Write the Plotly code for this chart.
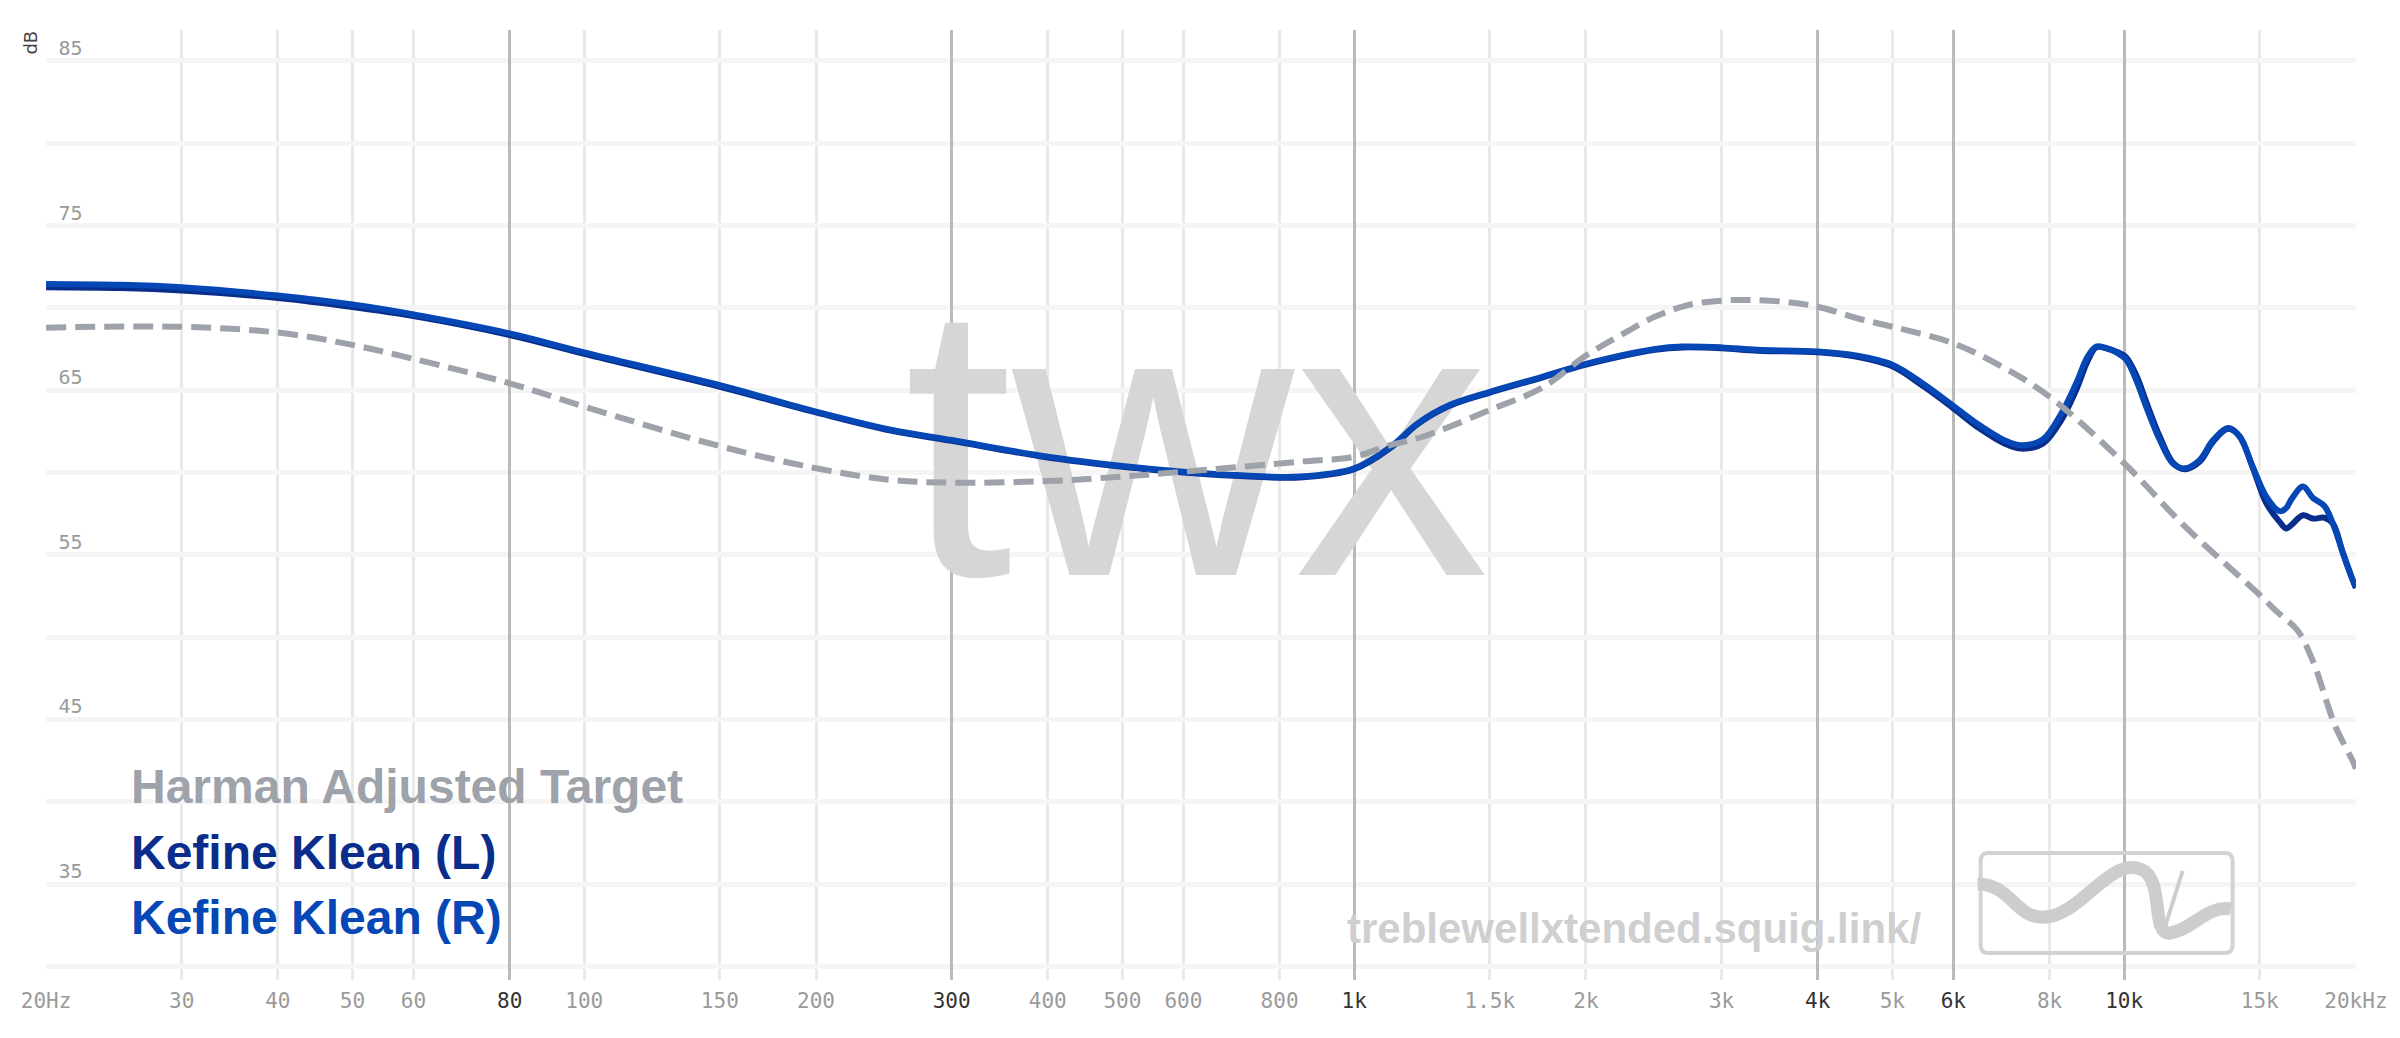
import plotly.graph_objects as go
import numpy as np

# ---------------- data ----------------
freq_meas = [20, 25, 30, 40, 50, 60, 80, 100, 150, 200, 250, 300, 400, 500, 600, 700, 850,
             1000, 1115, 1210, 1330, 1500, 1750, 2000, 2460, 2670, 3000, 3340, 4000, 4500, 5000,
             5500, 6000, 6500, 7000, 7350, 7840, 8290, 8660, 8970, 9200, 9480, 9810, 10060, 10370,
             10680, 11120, 11570, 11980, 12530, 13040, 13640, 14120, 14690, 15290, 15920, 16240,
             16480, 17070, 17590, 18210, 18670, 19240, 19720, 20000]
klean_r = [71.45, 71.4, 71.25, 70.75, 70.2, 69.6, 68.45, 67.3, 65.3, 63.7, 62.6, 61.97, 60.96,
           60.4, 60.05, 59.85, 59.75, 60.25, 61.55, 63.0, 64.1, 64.9, 65.8, 66.6, 67.5, 67.65,
           67.6, 67.45, 67.35, 67.1, 66.55, 65.35, 64.05, 62.85, 61.95, 61.65, 62.0, 63.6, 65.4,
           67.05, 67.65, 67.55, 67.25, 66.85, 65.6, 64.0, 62.0, 60.55, 60.25, 60.75, 61.95,
           62.7, 62.2, 60.35, 58.55, 57.65, 57.85, 58.35, 59.15, 58.45, 57.95, 56.9, 55.1,
           53.7, 53.0]
klean_l = [71.25, 71.2, 71.05, 70.6, 70.05, 69.5, 68.35, 67.2, 65.2, 63.65, 62.55, 61.92, 60.91,
           60.35, 60.0, 59.8, 59.7, 60.2, 61.5, 62.95, 64.05, 64.85, 65.75, 66.55, 67.45, 67.6,
           67.55, 67.4, 67.3, 67.03, 66.45, 65.2, 63.9, 62.65, 61.75, 61.45, 61.75, 63.2, 65.0,
           66.8, 67.6, 67.55, 67.3, 67.0, 65.9, 64.3, 62.2, 60.6, 60.2, 60.65, 61.85,
           62.65, 62.2, 60.3, 58.15, 57.0, 56.6, 56.8, 57.4, 57.2, 57.25, 56.9, 55.1,
           53.7, 53.0]

freq_target = [20, 30, 40, 50, 60, 80, 100, 150, 200, 250, 300, 400, 500, 600, 850, 1000, 1115,
               1210, 1330, 1500, 1750, 2000, 2220, 2460, 2720, 3000, 3210, 3600, 4000, 4500, 5000,
               6000, 7000, 8000, 10000, 12000, 15000, 15830, 16800, 17600, 18800, 19800, 20000]
harman_target = [68.8, 68.85, 68.5, 67.75, 66.9, 65.42, 64.0, 61.6, 60.26, 59.55, 59.38, 59.48,
                 59.75, 60.05, 60.66, 60.96, 61.67, 62.08, 62.78, 63.8, 65.12, 67.1, 68.35, 69.47,
                 70.18, 70.44, 70.48, 70.38, 70.07, 69.37, 68.85, 67.85, 66.33, 64.61, 60.56,
                 56.71, 52.56, 51.5, 50.4, 48.5, 44.6, 42.5, 42.0]

grid_light = [30, 40, 50, 60, 100, 150, 200, 400, 500, 600, 800, 1500, 2000, 3000, 5000, 8000, 15000]
label_light_vals = [20, 30, 40, 50, 60, 100, 150, 200, 400, 500, 600, 800, 1500, 2000, 3000, 5000, 8000, 15000, 20000]
label_light_text = ["20Hz", "30", "40", "50", "60", "100", "150", "200", "400", "500", "600", "800",
                    "1.5k", "2k", "3k", "5k", "8k", "15k", "20kHz"]
dark_vals = [80, 300, 1000, 4000, 6000, 10000]
dark_text = ["80", "300", "1k", "4k", "6k", "10k"]
y_grid_vals = [30, 35, 40, 45, 50, 55, 60, 65, 70, 75, 80, 85]
y_label_vals = [35, 45, 55, 65, 75, 85]

names = ["Harman Adjusted Target", "Kefine Klean (L)", "Kefine Klean (R)"]
watermark = "twx"
site = "treblewellxtended.squig.link/"

# ---------------- layout constants ----------------
W, H = 2400, 1038
PL, PR, PT, PB = 46.4, 2356.4, 30, 980
C_TARGET = "#9ea2aa"
C_L = "#0a2d8c"
C_R = "#0447b5"
SMOOTH = 1.0

def px(x):
    return (x - PL) / (PR - PL)

def py(y):
    return (PB - y) / (PB - PT)

fig = go.Figure()

# watermark (below curves)
fig.add_trace(go.Scatter(x=[624], y=[59.7], mode="text", text=[watermark],
                         textfont=dict(family="Liberation Sans, sans-serif",
                                       size=390, color="#d6d6d6"),
                         hoverinfo="skip", showlegend=False))

fig.add_trace(go.Scatter(x=freq_meas, y=klean_l, mode="lines", name=names[1],
                         line=dict(color=C_L, width=6, shape="spline", smoothing=SMOOTH),
                         showlegend=False))
fig.add_trace(go.Scatter(x=freq_meas, y=klean_r, mode="lines", name=names[2],
                         line=dict(color=C_R, width=6, shape="spline", smoothing=SMOOTH),
                         showlegend=False))
fig.add_trace(go.Scatter(x=freq_target, y=harman_target, mode="lines", name=names[0],
                         xaxis="x2", yaxis="y2",
                         line=dict(color=C_TARGET, width=6, dash="20px,9px", shape="spline",
                                   smoothing=SMOOTH),
                         showlegend=False))

xr = [np.log10(20) - 1e-4, np.log10(20000) + 1e-4]
yr = [29.17, 86.88]
tickfont_light = dict(family="DejaVu Sans Mono, monospace", size=21, color="#9a9a9a")
tickfont_dark = dict(family="DejaVu Sans Mono, monospace", size=21, color="#333333")

fig.update_layout(
    width=W, height=H,
    margin=dict(l=PL, r=W - PR, t=PT, b=H - PB, pad=0),
    paper_bgcolor="white", plot_bgcolor="white",
    xaxis=dict(type="log", range=xr, tickmode="array", tickvals=label_light_vals,
               ticktext=label_light_text, showgrid=False, zeroline=False, showline=False,
               ticks="", tickfont=tickfont_light, ticklabelstandoff=6,
               minor=dict(tickvals=grid_light, showgrid=True, gridcolor="#e9e9e9", gridwidth=2.5, ticks="")),
    xaxis2=dict(type="log", range=xr, overlaying="x", anchor="y", side="bottom",
                tickmode="array", tickvals=dark_vals, ticktext=dark_text, showgrid=True,
                gridcolor="#bababa", gridwidth=2.5, zeroline=False, showline=False, ticks="",
                tickfont=tickfont_dark, ticklabelstandoff=6),
    yaxis=dict(range=yr, tickmode="array", tickvals=y_grid_vals, showticklabels=False,
               showgrid=True, gridcolor="#f5f5f5", gridwidth=4.5, zeroline=False, showline=False,
               ticks=""),
    yaxis2=dict(range=yr, overlaying="y", anchor="free", position=px(83), side="left",
                tickmode="array", tickvals=y_label_vals, ticktext=[str(v) for v in y_label_vals],
                showgrid=False, zeroline=False, showline=False, ticks="",
                ticklabelshift=-13, ticklabelstandoff=0,
                tickfont=dict(family="DejaVu Sans Mono, monospace", size=20, color="#9a9a9a")),
    showlegend=False,
)

annotations = []
# y-axis title
annotations.append(dict(text="dB", x=px(31), y=py(43), xref="paper", yref="paper", showarrow=False,
                        textangle=-90, font=dict(family="DejaVu Sans, sans-serif", size=18, color="#444444"),
                        xanchor="center", yanchor="middle"))
# legend texts
for name, col, base in zip(names, [C_TARGET, C_L, C_R], [802, 868, 933]):
    annotations.append(dict(text=name, x=px(129), y=py(base - 16), xref="paper", yref="paper",
                            showarrow=False, xanchor="left", yanchor="middle",
                            font=dict(family="Liberation Sans, Arial, sans-serif", size=48, color=col,
                                      weight="bold")))
# site watermark text
annotations.append(dict(text=site, x=px(1634), y=py(928), xref="paper", yref="paper", showarrow=False,
                        xanchor="center", yanchor="middle",
                        font=dict(family="Liberation Sans, Arial, sans-serif", size=42, color="#cfcfcf",
                                  weight="bold")))
fig.update_layout(annotations=annotations)

# logo box and squiggle
def path_paper(cmds):
    out = []
    for c in cmds:
        if isinstance(c, str):
            out.append(c)
        else:
            out.append(f"{px(c[0]):.5f},{py(c[1]):.5f}")
    return " ".join(out)

r = 8
x0, x1, y0, y1 = 1981, 2233, 853, 953
box = path_paper(["M", (x0 + r, y0), "L", (x1 - r, y0), "Q", (x1, y0), (x1, y0 + r), "L", (x1, y1 - r),
                  "Q", (x1, y1), (x1 - r, y1), "L", (x0 + r, y1), "Q", (x0, y1), (x0, y1 - r),
                  "L", (x0, y0 + r), "Q", (x0, y0), (x0 + r, y0), "Z"])
squig = path_paper(["M", (1978, 884), "C", (2012, 884), (2016, 920), (2046, 917),
                    "C", (2082, 914), (2110, 858), (2141, 869),
                    "C", (2166, 878), (2150, 936), (2171, 933),
                    "C", (2192, 930), (2208, 905), (2231, 909)])
hook = path_paper(["M", (2166, 925), "L", (2183, 871)])
fig.update_layout(shapes=[
    dict(type="path", path=box, xref="paper", yref="paper", line=dict(color="#d2d2d2", width=4)),
    dict(type="path", path=squig, xref="paper", yref="paper", line=dict(color="#cdcdcd", width=13)),
    dict(type="path", path=hook, xref="paper", yref="paper", line=dict(color="#cdcdcd", width=4)),
])

fig.write_html("out.html", config={"displayModeBar": False},
               post_script="document.body.style.margin='0';")
